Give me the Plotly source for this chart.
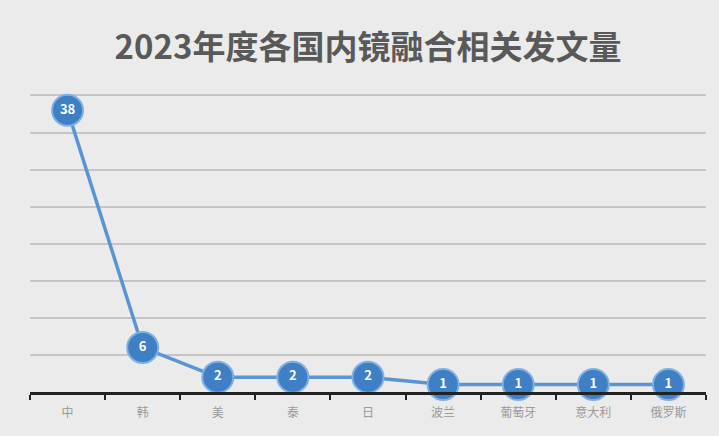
import plotly.graph_objects as go

countries = ["中", "韩", "美", "泰", "日", "波兰", "葡萄牙", "意大利", "俄罗斯"]
counts = [38, 6, 2, 2, 2, 1, 1, 1, 1]
title_text = "2023年度各国内镜融合相关发文量"

fig = go.Figure()
fig.add_trace(go.Scatter(
    x=countries, y=counts,
    mode="lines+markers+text",
    text=["<b>" + str(v) + "</b>" for v in counts],
    textposition="middle center",
    textfont=dict(family="Noto Sans CJK SC", size=13, color="white"),
    line=dict(color="#5a95d3", width=3.5),
    marker=dict(size=31, color="#3e7fc6", line=dict(color="#7fb0e3", width=2)),
    cliponaxis=False,
    showlegend=False,
))

fig.update_layout(
    width=719, height=436,
    margin=dict(l=30, r=13, t=94, b=44),
    paper_bgcolor="#ebebeb",
    plot_bgcolor="rgba(0,0,0,0)",
    title=dict(
        text="<b>" + title_text + "</b>",
        x=0.5, xanchor="center", xref="paper",
        y=1 - 47 / 436, yanchor="middle", yref="container",
        font=dict(family="Noto Sans CJK SC", size=33, color="#595959"),
    ),
    xaxis=dict(
        type="category",
        range=[-0.5, 8.5],
        showgrid=False,
        showline=True, linecolor="#222222", linewidth=2.5,
        ticks="outside", tickson="boundaries", ticklen=5, tickwidth=2, tickcolor="#222222",
        ticklabelstandoff=8,
        tickfont=dict(family="Noto Sans CJK SC", size=12, color="#9a9a9a"),
        fixedrange=True,
    ),
    yaxis=dict(
        range=[0, 40.2], dtick=5,
        showticklabels=False,
        showgrid=True, gridcolor="#c6c6c6", gridwidth=1.5,
        zeroline=False,
        fixedrange=True,
    ),
)

fig.write_html("out.html")
